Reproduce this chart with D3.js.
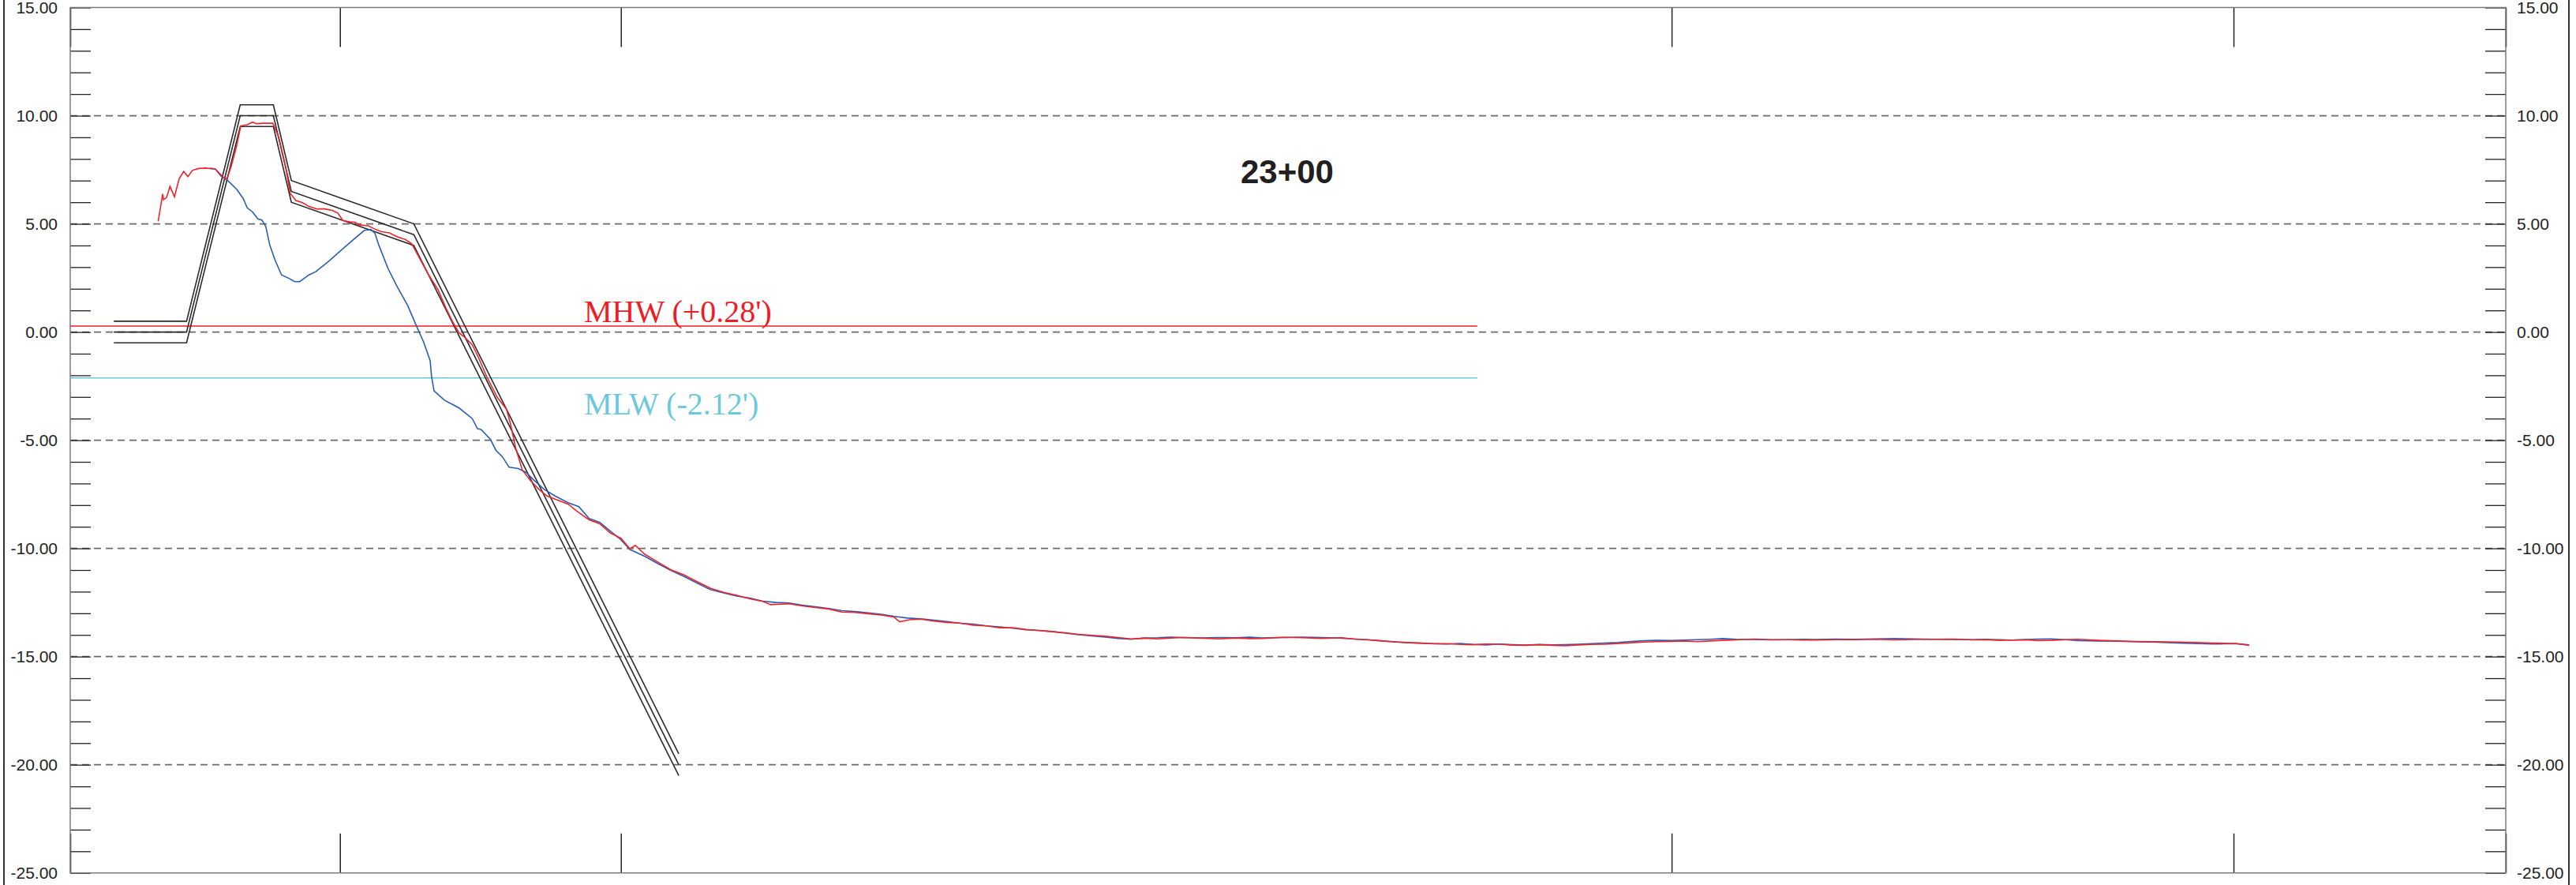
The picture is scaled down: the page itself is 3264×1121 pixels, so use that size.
<!DOCTYPE html>
<html><head><meta charset="utf-8">
<script src="https://cdn.jsdelivr.net/npm/d3@7"></script>
<style>html,body{margin:0;padding:0;background:#fff;}svg{display:block;}</style>
</head><body>
<svg id="chart" width="3264" height="1121"></svg>
<script>
// ---------------- DATA ----------------
const stationLabel = "23+00";
const yTickLabels = ["15.00","10.00","5.00","0.00","-5.00","-10.00","-15.00","-20.00","-25.00"];
const yMajorValues = [15,10,5,0,-5,-10,-15,-20,-25];
const xTickValues = [0, 96, 196, 570, 770, 866.9];

// design template (centre line), upper / lower tolerance offsets
const designX = [15.5, 41.4, 60.5, 72.3, 78.7, 122.3, 216.6];
const designY = [0.0, 0.0, 10.0, 10.0, 6.5, 4.5, -20.0];
const designOffsets = [0.5, 0.0, -0.5];

// tidal datums
const mhwValue = 0.28, mlwValue = -2.12;
const datumExtent = [0, 500.8];

// survey profile (red)
const redX = [31.3,32.9,33.2,34.3,35.5,37.1,38.8,40.4,41.9,43.5,45.7,48.0,51.6,53.7,54.6,55.7,57.2,59.1,60.7,63.0,64.9,66.3,68.6,72.1,74.2,76.6,78.3,80.3,82.7,85.0,87.8,90.6,93.5,95.3,97.0,99.5,101.4,102.8,106.1,108.4,110.8,113.6,116.4,119.2,121.5,124.8,127.6,130.9,133.7,136.0,138.4,140.3,143.1,145.4,148.2,152.0,155.3,156.7,158.5,160.9,163.7,166.9,169.7,173.5,177.2,180.1,184.7,188.5,192.2,196.0,199.2,201.1,204.4,209.1,213.8,218.5,223.1,227.8,232.5,237.2,241.9,246.5,249.3,255.9,260.5,265.2,270.0,274.6,279.3,284.0,288.6,293.3,295.2,298.8,302.7,307.4,312.1,316.8,321.4,326.1,330.8,335.5,340.2,344.9,349.5,354.2,358.9,363.6,368.3,372.9,377.6,382.3,387.0,391.7,396.3,402.7,408.9,415.1,419.8,424.4,431.5,438.5,445.5,452.5,457.2,461.9,466.6,471.3,476.0,480.6,485.3,490.0,494.7,499.4,504.0,508.7,513.4,518.1,522.8,527.5,532.1,536.8,541.5,546.2,550.9,555.6,560.2,564.9,569.6,574.3,579.0,583.7,588.3,593.0,599.4,605.6,611.8,616.5,621.1,628.2,635.2,642.2,649.2,656.2,663.2,670.2,677.2,681.9,686.6,691.3,696.0,700.6,705.3,710.0,714.7,721.7,728.7,735.7,742.8,749.8,756.8,763.8,770.9,775.6,780.3,785.9];
const redY = [5.12,6.38,6.11,6.22,6.73,6.25,7.10,7.42,7.18,7.47,7.56,7.58,7.54,7.26,7.14,7.07,7.62,8.53,9.53,9.58,9.70,9.63,9.65,9.65,9.02,7.68,6.41,6.08,5.98,5.80,5.69,5.69,5.61,5.49,5.16,5.09,5.07,4.95,4.91,4.76,4.64,4.58,4.40,4.28,4.09,3.30,2.64,1.96,1.11,0.50,-0.04,-0.23,-0.59,-1.20,-2.05,-3.02,-3.57,-4.24,-5.34,-6.37,-6.85,-7.28,-7.58,-7.77,-7.95,-8.26,-8.68,-8.86,-9.29,-9.53,-10.02,-9.86,-10.26,-10.63,-10.99,-11.23,-11.54,-11.84,-12.03,-12.17,-12.33,-12.45,-12.60,-12.56,-12.66,-12.73,-12.80,-12.94,-12.96,-13.02,-13.08,-13.18,-13.39,-13.30,-13.27,-13.36,-13.42,-13.45,-13.55,-13.58,-13.67,-13.66,-13.75,-13.80,-13.85,-13.90,-13.97,-14.02,-14.06,-14.12,-14.18,-14.15,-14.18,-14.14,-14.12,-14.15,-14.18,-14.14,-14.17,-14.16,-14.11,-14.13,-14.16,-14.13,-14.19,-14.23,-14.27,-14.33,-14.35,-14.38,-14.41,-14.40,-14.44,-14.45,-14.42,-14.43,-14.47,-14.48,-14.45,-14.48,-14.50,-14.46,-14.44,-14.43,-14.40,-14.36,-14.33,-14.31,-14.30,-14.28,-14.31,-14.28,-14.25,-14.23,-14.19,-14.22,-14.22,-14.24,-14.24,-14.22,-14.22,-14.20,-14.23,-14.21,-14.20,-14.19,-14.23,-14.22,-14.25,-14.24,-14.23,-14.26,-14.25,-14.22,-14.20,-14.25,-14.28,-14.30,-14.31,-14.33,-14.35,-14.38,-14.40,-14.46];

// survey profile (blue)
const blueX = [49.7,51.6,53.7,56.0,59.3,61.6,63.0,64.9,66.8,68.2,69.6,71.0,72.8,75.2,78.0,79.9,81.7,85.0,87.4,92.1,96.7,101.4,104.7,107.0,108.4,109.8,113.1,116.4,120.1,122.9,125.8,128.1,128.6,129.5,133.2,138.4,143.1,144.9,146.3,149.6,151.5,153.8,156.2,159.5,162.3,165.1,168.8,172.6,177.2,181.0,184.7,188.5,192.2,196.0,199.2,204.4,209.1,213.8,218.5,223.1,227.8,232.5,237.2,241.9,246.5,251.2,255.9,260.5,265.2,270.0,274.6,279.3,284.0,288.6,293.3,298.0,302.7,307.4,312.1,316.8,321.4,326.1,330.8,335.5,340.2,344.9,349.5,354.2,358.9,363.6,368.3,372.9,377.6,382.3,387.0,391.7,396.3,402.7,408.9,415.1,419.8,424.4,431.5,438.5,445.5,452.5,457.2,461.9,466.6,471.3,476.0,480.6,485.3,490.0,494.7,499.4,504.0,508.7,513.4,518.1,522.8,527.5,532.1,536.8,541.5,546.2,550.9,555.6,560.2,564.9,569.6,574.3,579.0,583.7,588.3,593.0,599.4,605.6,611.8,616.5,621.1,628.2,635.2,642.2,649.2,656.2,663.2,670.2,677.2,681.9,686.6,691.3,696.0,700.6,705.3,710.0,714.7,721.7,728.7,735.7,742.8,749.8,756.8,763.8,770.9,775.6,780.3,785.9,790.0,794.1];
const blueY = [7.57,7.54,7.20,7.01,6.59,6.16,5.74,5.55,5.23,5.18,4.88,4.03,3.36,2.64,2.47,2.33,2.33,2.64,2.79,3.28,3.81,4.34,4.70,4.74,4.58,4.03,2.94,2.09,1.23,0.38,-0.47,-1.32,-2.05,-2.72,-3.15,-3.51,-4.00,-4.46,-4.51,-4.97,-5.46,-5.76,-6.25,-6.31,-6.49,-6.85,-7.28,-7.58,-7.89,-8.07,-8.62,-8.80,-9.20,-9.60,-10.05,-10.36,-10.70,-11.02,-11.30,-11.60,-11.90,-12.06,-12.20,-12.30,-12.44,-12.50,-12.52,-12.62,-12.70,-12.78,-12.88,-12.92,-12.98,-13.04,-13.14,-13.22,-13.25,-13.32,-13.38,-13.46,-13.50,-13.58,-13.63,-13.69,-13.76,-13.79,-13.84,-13.92,-13.99,-14.04,-14.10,-14.16,-14.20,-14.14,-14.13,-14.10,-14.12,-14.14,-14.12,-14.13,-14.10,-14.14,-14.12,-14.10,-14.12,-14.15,-14.19,-14.22,-14.28,-14.31,-14.36,-14.38,-14.40,-14.42,-14.39,-14.44,-14.46,-14.42,-14.45,-14.47,-14.44,-14.46,-14.45,-14.43,-14.40,-14.38,-14.35,-14.30,-14.27,-14.25,-14.26,-14.24,-14.22,-14.20,-14.17,-14.20,-14.21,-14.23,-14.22,-14.20,-14.21,-14.19,-14.20,-14.18,-14.17,-14.18,-14.20,-14.21,-14.22,-14.20,-14.22,-14.24,-14.21,-14.19,-14.18,-14.22,-14.26,-14.28,-14.29,-14.32,-14.34,-14.37,-14.40,-14.42,-14.40,-14.48];

// ---------------- CHART ----------------
const W = 3264, H = 1121;
const plot = {left: 89, right: 3175, top: 9.5, bottom: 1105.7};
const svg = d3.select("#chart");

const x = d3.scaleLinear().domain([0, 866.9]).range([plot.left, plot.right]);
const y = d3.scaleLinear().domain([-25, 15]).range([plot.bottom, plot.top]);

// outer frame verticals
svg.append("line").attr("x1",5).attr("x2",5).attr("y1",0).attr("y2",H).attr("stroke","#333").attr("stroke-width",2);
svg.append("line").attr("x1",3255).attr("x2",3255).attr("y1",0).attr("y2",H).attr("stroke","#333").attr("stroke-width",2);

// dashed grid
const gridVals = yMajorValues.filter(v => v < 15 && v > -25);
svg.append("g").selectAll("line").data(gridVals).join("line")
  .attr("x1", plot.left).attr("x2", plot.right)
  .attr("y1", d => y(d)).attr("y2", d => y(d))
  .attr("stroke", "#6a6a6a").attr("stroke-width", 1.7).attr("stroke-dasharray", "9,6");

// y minor ticks (inside, both sides) via d3 axes
const minorVals = d3.range(-25, 16, 1);
const leftAxis = d3.axisRight(y).tickValues(minorVals).tickSize(26).tickFormat("");
const rightAxis = d3.axisLeft(y).tickValues(minorVals).tickSize(26).tickFormat("");
const gl = svg.append("g").attr("transform", `translate(${plot.left},0)`).call(leftAxis);
const gr = svg.append("g").attr("transform", `translate(${plot.right},0)`).call(rightAxis);
[gl, gr].forEach(g => {
  g.select(".domain").remove();
  g.selectAll(".tick line").attr("stroke", "#222").attr("stroke-width", 1.3);
});

// y labels
const lab = yMajorValues.map((v, i) => ({v, t: yTickLabels[i]}));
svg.append("g").selectAll("text").data(lab).join("text")
  .attr("x", 73).attr("y", d => y(d.v)).attr("dy", "0.36em")
  .attr("text-anchor", "end").attr("font-family", "Liberation Sans, Arial, sans-serif")
  .attr("font-size", 21).attr("fill", "#222").text(d => d.t);
svg.append("g").selectAll("text").data(lab).join("text")
  .attr("x", 3189).attr("y", d => y(d.v)).attr("dy", "0.36em")
  .attr("text-anchor", "start").attr("font-family", "Liberation Sans, Arial, sans-serif")
  .attr("font-size", 21).attr("fill", "#222").text(d => d.t);

// x ticks (top and bottom, inward)
const topAxis = d3.axisBottom(x).tickValues(xTickValues).tickSize(50).tickFormat("");
const botAxis = d3.axisTop(x).tickValues(xTickValues).tickSize(50).tickFormat("");
const gt = svg.append("g").attr("transform", `translate(0,${plot.top})`).call(topAxis);
const gb = svg.append("g").attr("transform", `translate(0,${plot.bottom})`).call(botAxis);
[gt, gb].forEach(g => {
  g.select(".domain").remove();
  g.selectAll(".tick line").attr("stroke", "#222").attr("stroke-width", 1.5);
});

// plot border
svg.append("rect").attr("x", plot.left).attr("y", plot.top)
  .attr("width", plot.right - plot.left).attr("height", plot.bottom - plot.top)
  .attr("fill", "none").attr("stroke", "#7a7a7a").attr("stroke-width", 1.5);

// tidal datum lines
svg.append("line").attr("x1", x(datumExtent[0])).attr("x2", x(datumExtent[1]))
  .attr("y1", y(mhwValue)).attr("y2", y(mhwValue)).attr("stroke", "#ee1c24").attr("stroke-width", 1.5);
svg.append("line").attr("x1", x(datumExtent[0])).attr("x2", x(datumExtent[1]))
  .attr("y1", y(mlwValue)).attr("y2", y(mlwValue)).attr("stroke", "#6cc9dc").attr("stroke-width", 1.5);

svg.append("text").attr("x", 740).attr("y", 408)
  .attr("font-family", "Liberation Serif, Times New Roman, serif").attr("font-size", 40)
  .attr("fill", "#ee1c24").text("MHW (+0.28')");
svg.append("text").attr("x", 740).attr("y", 525)
  .attr("font-family", "Liberation Serif, Times New Roman, serif").attr("font-size", 40)
  .attr("fill", "#6cc9dc").text("MLW (-2.12')");

// design template lines
const line = d3.line().x(d => x(d[0])).y(d => y(d[1]));
designOffsets.forEach(off => {
  const pts = designX.map((xx, i) => [xx, designY[i] + off]);
  svg.append("path").attr("d", line(pts)).attr("fill", "none")
    .attr("stroke", "#2b2b2b").attr("stroke-width", 1.6).attr("stroke-linejoin", "miter");
});

// profiles
const bluePts = blueX.map((xx, i) => [xx, blueY[i]]);
const redPts = redX.map((xx, i) => [xx, redY[i]]);
svg.append("path").attr("d", line(bluePts)).attr("fill", "none")
  .attr("stroke", "#2a5db5").attr("stroke-width", 1.6);
svg.append("path").attr("d", line(redPts)).attr("fill", "none")
  .attr("stroke", "#f0232b").attr("stroke-width", 1.6);

// station title
svg.append("text").attr("x", 1631).attr("y", 232).attr("text-anchor", "middle")
  .attr("font-family", "Liberation Sans, Arial, sans-serif").attr("font-weight", "bold")
  .attr("font-size", 42).attr("fill", "#231f20").text(stationLabel);
</script>
</body></html>
